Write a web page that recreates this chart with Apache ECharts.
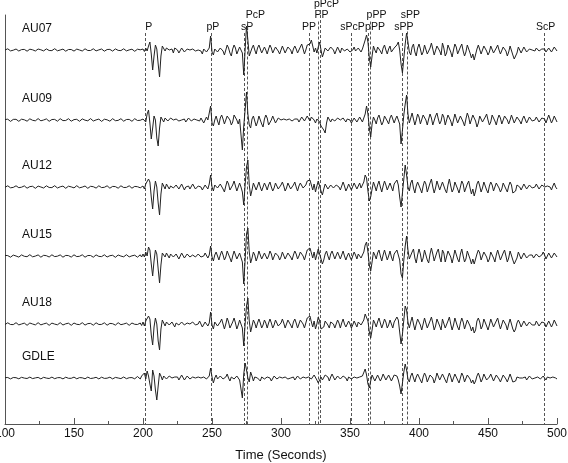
<!DOCTYPE html>
<html><head><meta charset="utf-8">
<script src="https://cdn.jsdelivr.net/npm/echarts@6/dist/echarts.min.js"></script>
<style>html,body{margin:0;padding:0;background:#fff}#c{width:568px;height:463px}</style>
</head><body><div id="c"></div>
<script>
// ---------- DATA ----------
const stations = ['AU07','AU09','AU12','AU15','AU18','GDLE'];
const timeStart = 100;   // seconds, first sample
const timeStep = 1;      // seconds between samples
const xTickValues = [100,150,200,250,300,350,400,450,500];

const AU07 = [
0,0.8,1.2,0.3,-0.9,-1.1,-0.2,0.9,1,0,
-1,-0.8,0.4,1.3,0.6,-0.7,-1.2,-0.3,0.8,1.1,
0.2,-0.9,-1,0.1,1,1.2,0.2,-1,-0.9,0.3,
1.1,0.7,-0.5,-1.3,-0.6,0.6,1.3,0.4,-0.8,-1,
0,1,0.9,-0.3,-1.2,-0.8,0.5,1.2,0.5,-0.7,
-1.1,-0.2,0.9,1.1,0,-1,-1,0.2,1.2,0.8,
-0.5,-1.3,-0.5,0.7,1.2,0.3,-0.9,-1,0.1,1,
1,-0.2,-1.2,-0.7,0.5,1.3,0.6,-0.8,-1.1,0,
1.1,0.9,-0.4,-1.2,-0.6,0.6,1.2,0.3,-0.9,-1,
0.1,1.1,0.8,-0.5,-1.3,-0.4,0.8,1.3,0.2,-1.2,
1,-1.5,2,-1,4,8,-4,-20,-6,5,
1,-14,-27,-6,4,2,-1,2,3,0,
-2,1,-3,2,3,0,-3,-1,2,1,
-2,-3,1,3,0,-2,1,3,-1,-3,
0,2,-1,-4,1,3,-2,-1,2,14,
-2,-5,1,3,-2,-4,2,4,-1,-5,
0,5,2,-3,-6,1,5,2,-4,-2,
3,1,-3,-25,0,24,10,-6,-8,2,
5,0,-4,2,5,1,-3,-1,3,0,
-4,1,5,2,-3,-2,3,4,-1,-4,
0,4,2,-3,-2,3,5,0,-4,1,
4,1,-3,-1,3,6,1,-4,0,5,
3,6,10,4,-2,2,-3,3,8,0,
-7,-5,2,4,-1,-3,3,5,0,-4,
-2,3,1,-3,2,4,-1,-3,1,2,
-2,-4,0,3,-1,-3,2,3,-2,1,
3,10,15,8,-8,-17,-6,4,0,-3,
3,5,-1,-4,2,5,0,-4,1,4,
-2,-4,2,2,5,8,0,-14,-23,-8,
6,17,8,-2,-5,3,6,-2,-6,2,
6,1,-5,-2,5,4,-4,-6,2,7,
1,-5,-3,4,6,-1,-5,7,2,-6,
-3,5,6,-2,-7,0,6,3,-4,-5,
3,6,-1,-6,-2,5,4,-3,-8,-4,
-10,-12,1,5,3,-4,-2,4,5,-1,
-5,-2,4,3,-3,-5,2,5,0,-4,
-3,3,5,-1,-6,-2,4,3,-5,-9,
-10,-3,3,2,-3,-1,3,1,-2,-3,
1,3,0,-2,-1,2,2,-1,-2,1,
3,1,-2,0,2,1,-2,0,3,1,
-1];

const AU09 = [
0.5,1.3,0.8,-0.6,-1.4,-0.7,0.6,1.4,0.7,-0.6,
-1.3,-0.5,0.8,1.3,0.2,-1.1,-1.2,0.1,1.2,1,
-0.3,-1.4,-0.8,0.6,1.4,0.6,-0.8,-1.3,0,1.2,
1.1,-0.3,-1.3,-0.9,0.5,1.4,0.6,-0.9,-1.2,0.2,
1.3,0.8,-0.6,-1.4,-0.5,0.9,1.3,0.1,-1.2,-1,
0.4,1.4,0.7,-0.8,-1.3,-0.2,1.1,1.2,-0.2,-1.3,
-0.8,0.7,1.4,0.4,-1,-1.3,0.1,1.3,0.9,-0.6,
-1.4,-0.6,0.8,1.3,0.2,-1.1,-1.2,0.3,1.3,0.8,
-0.7,-1.4,-0.4,1,1.3,0,-1.2,-1,0.5,1.4,
0.6,-0.9,-1.3,0,1.3,1,-0.5,-1.4,-0.3,1,
1,3,-2,6,10,-3,-19,-8,4,0,
-18,-26,-8,3,1,-2,2,3,-1,-2,
2,3,0,-2,1,2,-1,-3,0,2,
1,-2,-1,2,2,-1,-2,1,2,0,
-2,-1,2,1,-3,-1,3,0,-2,14,
-3,-6,0,4,-1,-5,2,5,1,-4,
-2,4,6,0,-5,-2,5,7,0,-4,
1,3,-30,-6,10,28,6,-5,-8,1,
4,-1,-6,-2,4,3,-4,-7,1,5,
2,-5,-7,0,4,2,-3,-2,2,3,
0,-2,1,3,0,-2,1,2,-1,-2,
1,3,1,-2,0,3,2,-1,1,4,
2,-1,3,4,0,-3,1,3,-2,-6,
-4,-10,-13,-3,3,2,-2,1,3,-1,
-2,2,3,0,-1,2,1,-2,1,3,
0,-3,-1,2,1,-2,0,3,1,-2,
2,6,14,6,-8,-17,-4,3,0,-4,
2,5,0,-5,-2,4,5,-1,-4,2,
5,1,-3,1,4,2,-4,-24,-10,5,
16,25,6,-3,2,7,1,-5,0,6,
3,-4,-2,5,7,0,-5,1,6,2,
-5,-3,4,7,1,-4,-1,6,3,-5,
-3,5,7,-1,-6,0,6,4,-3,-2,
4,6,-2,-6,1,7,3,-4,-3,5,
6,-1,-7,-3,4,5,-2,-4,3,6,
0,-5,-2,5,6,-1,-5,1,5,2,
-4,-3,4,6,0,-4,0,5,3,-3,
-2,3,5,-1,-4,1,4,2,-3,-1,
3,4,-1,-3,0,3,2,-2,-2,2,
4,1,-3,-1,5,3,-3,0,4,2,
-2];

const AU12 = [
-0.3,0.8,1.2,0.4,-0.8,-1.2,-0.4,0.7,1.2,0.5,
-0.7,-1.2,-0.2,1,1.1,-0.1,-1.2,-0.9,0.4,1.3,
0.7,-0.6,-1.3,-0.3,0.9,1.2,0,-1.1,-1,0.3,
1.2,0.8,-0.5,-1.2,-0.6,0.7,1.3,0.3,-1,-1.1,
0.2,1.2,0.9,-0.4,-1.3,-0.6,0.8,1.2,0.1,-1.1,
-0.9,0.4,1.3,0.6,-0.8,-1.2,-0.1,1.1,1,-0.4,
-1.3,-0.6,0.7,1.3,0.3,-1,-1.1,0.2,1.2,0.8,
-0.6,-1.3,-0.3,1,1.2,-0.1,-1.2,-0.7,0.6,1.3,
0.4,-1,-1.2,0.1,1.2,0.9,-0.5,-1.3,-0.4,0.9,
1.2,0,-1.2,-0.9,0.6,1.3,0.3,-1,-0.8,0.5,
1,-2,3,2,8,5,-10,-22,-4,6,
0,-16,-28,-7,4,1,-2,3,2,-2,
1,3,-1,-3,2,2,-2,-1,3,1,
-3,0,2,1,-2,-1,3,2,-2,-3,
1,3,0,-3,-1,2,1,-2,3,12,
0,-4,2,4,-1,-3,3,5,-2,-5,
1,6,3,-3,-5,2,6,1,-4,0,
4,0,-5,-18,2,20,27,2,-9,-3,
4,2,-3,1,5,0,-4,0,4,1,
-3,2,5,0,-4,-1,4,3,-2,-3,
2,5,1,-4,-1,4,3,-2,-3,2,
5,0,-4,1,4,5,-1,-3,2,6,
4,7,2,-3,3,-5,1,6,4,-4,
-8,-2,3,5,-2,-4,2,4,-1,-3,
2,4,0,-3,1,5,1,-4,-1,3,
1,-3,-2,4,2,-2,1,4,-1,0,
5,12,9,-4,-14,-10,-2,5,1,-4,
2,6,0,-5,1,6,2,-3,-1,4,
0,-4,3,4,7,2,-10,-20,-6,8,
22,12,0,-4,4,7,-1,-6,1,5,
7,-2,-6,1,6,3,-5,-4,4,8,
0,-6,-1,6,5,-3,-5,5,6,-3,
-6,2,8,1,-5,-2,5,6,-2,-6,
0,6,3,-5,-6,3,6,-1,-7,-2,
-9,-4,3,6,1,-5,-1,5,4,-3,
-6,1,5,2,-4,-3,4,6,-1,-5,
-2,4,5,-2,-5,1,5,2,-6,-8,
-4,2,4,0,-3,0,3,2,-2,-2,
2,3,-1,-3,0,3,1,-2,-1,2,
3,0,-2,1,3,0,-3,1,4,0,
-2];

const AU15 = [
0.6,1.2,0.4,-0.8,-1.2,-0.2,0.9,1.1,0,-1,
-1.1,0,1.1,1,-0.3,-1.2,-0.7,0.6,1.3,0.5,
-0.8,-1.2,-0.1,1,1.1,-0.2,-1.2,-0.6,0.7,1.2,
0.3,-1,-1,0.3,1.2,0.8,-0.6,-1.2,-0.2,1,
1.1,-0.1,-1.2,-0.7,0.6,1.3,0.4,-0.9,-1.1,0.2,
1.2,0.7,-0.6,-1.3,-0.3,0.9,1.2,0,-1.2,-0.8,
0.5,1.3,0.5,-0.8,-1.2,0,1.1,1,-0.4,-1.3,
-0.6,0.8,1.2,0.2,-1,-1,0.3,1.2,0.7,-0.7,
-1.3,-0.3,1,1.2,-0.1,-1.2,-0.8,0.6,1.3,0.4,
-0.9,-1.1,0.2,1.2,0.8,-0.6,-1.2,0,1.2,-1,
2,-1,4,0,9,6,-8,-20,-5,6,
2,-13,-27,-9,3,2,-1,3,1,-2,
2,3,-1,-2,2,1,-3,0,3,1,
-2,-2,2,3,-1,-3,1,2,-1,-2,
2,3,-1,-3,0,3,1,-2,1,10,
-1,-5,1,4,0,-4,1,5,1,-4,
-1,5,4,-2,-6,0,5,3,-3,-3,
3,2,-6,-28,-4,22,28,4,-7,-2,
4,1,-5,-1,5,3,-3,-2,3,2,
-3,0,5,2,-4,-2,3,5,0,-4,
-1,4,3,-3,-3,3,5,-1,-4,1,
5,2,-3,0,4,6,0,-4,1,6,
5,8,3,-2,4,-4,-2,7,5,-3,
-8,-4,2,5,0,-4,2,5,1,-3,
-1,4,2,-3,1,5,0,-4,0,3,
-1,-4,0,4,1,-3,2,4,-2,0,
4,11,14,4,-9,-15,-6,4,1,-3,
3,6,0,-5,1,6,1,-4,0,5,
-1,-5,2,3,6,6,-4,-18,-22,-4,
10,20,6,-3,-4,4,7,-2,-7,1,
7,2,-6,-2,6,5,-4,-7,2,8,
2,-5,-4,4,7,-1,-6,6,3,-6,
-4,5,7,-1,-7,-1,6,4,-3,-6,
2,7,0,-6,-3,5,5,-3,-8,-3,
-8,-10,2,6,3,-4,-3,4,6,-1,
-6,-3,4,5,-2,-6,1,6,1,-4,
-4,3,6,0,-6,-2,5,4,-4,-8,
-7,-2,4,2,-3,-1,3,2,-2,-3,
1,3,1,-2,-2,2,3,-1,-3,1,
4,1,-3,0,3,1,-2,0,3,2,
-1];

const AU18 = [
-0.5,0.6,1.2,0.7,-0.5,-1.3,-0.6,0.7,1.3,0.4,
-0.9,-1.2,0,1.2,0.9,-0.5,-1.3,-0.3,1,1.2,
0,-1.2,-0.9,0.5,1.3,0.5,-0.9,-1.2,0.1,1.2,
0.9,-0.5,-1.3,-0.4,0.9,1.2,-0.1,-1.2,-0.8,0.6,
1.3,0.4,-1,-1.1,0.2,1.3,0.8,-0.6,-1.3,-0.2,
1,1.1,-0.3,-1.3,-0.6,0.8,1.3,0.2,-1.1,-0.9,
0.4,1.3,0.6,-0.8,-1.2,0,1.2,0.9,-0.5,-1.3,
-0.4,0.9,1.2,-0.1,-1.2,-0.8,0.6,1.3,0.3,-1,
-1.1,0.2,1.3,0.7,-0.7,-1.2,0,1.2,0.9,-0.6,
-1.3,-0.3,1,1.1,-0.3,-1.3,-0.5,0.9,1,-1.5,
2,-2,3,1,8,5,-11,-21,-3,6,
0,-17,-26,-5,4,1,-2,2,3,-1,
-2,2,1,-3,1,3,-1,-2,2,2,
-1,-3,1,2,0,-2,2,3,-1,-3,
0,3,1,-3,-1,2,2,-2,1,12,
-1,-5,2,3,-2,-4,2,5,0,-5,
0,6,2,-4,-5,2,6,1,-5,-1,
4,0,-4,-22,0,18,26,3,-8,-2,
4,1,-4,1,5,1,-4,-1,4,1,
-4,1,5,1,-4,-1,4,3,-2,-4,
1,5,1,-4,-2,4,4,-1,-4,2,
5,1,-4,0,4,6,0,-4,1,6,
4,8,2,-3,3,-5,0,7,3,-5,
-7,-3,3,5,-1,-4,2,4,0,-4,
0,4,1,-4,1,5,0,-3,0,3,
0,-4,-1,3,1,-3,2,4,-1,1,
4,10,12,3,-8,-14,-6,4,1,-3,
2,6,1,-4,0,5,2,-4,-1,4,
0,-4,2,4,7,4,-8,-20,-10,4,
18,14,2,-4,2,7,0,-6,0,5,
7,-1,-6,0,6,4,-4,-6,3,7,
1,-6,-2,5,6,-2,-6,5,5,-4,
-5,3,7,0,-6,-1,6,5,-3,-6,
1,6,2,-5,-5,4,6,-2,-7,-3,
-9,-6,3,6,2,-5,-2,5,5,-2,
-6,-1,5,3,-3,-5,3,6,0,-5,
-3,4,5,-1,-6,0,5,3,-5,-8,
-5,1,4,1,-3,0,3,2,-2,-2,
2,3,-1,-3,-1,3,2,-2,-2,2,
4,1,-3,0,3,1,-3,0,4,1,
-2];

const GDLE = [
0.3,0.8,0.5,-0.4,-0.9,-0.4,0.5,0.9,0.3,-0.6,
-0.8,-0.1,0.7,0.8,-0.1,-0.9,-0.5,0.4,0.9,0.3,
-0.6,-0.8,0.1,0.9,0.6,-0.4,-0.9,-0.2,0.7,0.8,
-0.1,-0.9,-0.5,0.5,0.9,0.2,-0.7,-0.7,0.3,0.9,
0.4,-0.6,-0.9,0,0.8,0.7,-0.3,-0.9,-0.3,0.6,
0.9,0.1,-0.8,-0.6,0.4,0.9,0.2,-0.7,-0.8,0.2,
0.9,0.5,-0.5,-0.9,-0.1,0.8,0.7,-0.4,-0.9,0,
0.8,0.6,-0.4,-0.9,-0.2,0.7,0.8,-0.2,-0.9,-0.3,
0.6,0.9,0,-0.8,-0.6,0.4,1,0.3,-0.7,-0.7,
0.3,1,0.4,-0.6,-0.8,0.5,1.5,0,-1,2,
1,5,-1,7,2,-6,-13,8,2,-12,
-22,-8,5,2,-2,2,3,-1,-2,2,
3,0,-2,1,3,1,-2,-1,3,2,
-2,-1,2,2,-1,-2,1,3,0,-2,
1,3,0,-2,1,2,-1,-3,2,10,
1,-5,0,3,-1,-3,2,4,-1,-3,
1,4,0,-3,1,3,-1,-2,2,1,
-2,-4,-20,4,15,8,0,-4,6,2,
-3,1,3,0,-2,-3,1,2,-1,-2,
1,3,0,-3,-1,2,2,-1,-2,1,
2,0,-2,1,2,-1,-3,0,2,1,
-2,-1,2,2,-1,-2,1,2,0,-2,
1,2,-1,0,3,1,-2,-5,-3,1,
-2,0,3,4,1,-3,1,4,2,-2,
-3,2,3,-1,-2,2,3,0,-3,1,
2,-1,-3,1,2,0,-2,1,3,2,
4,9,3,-6,-10,-3,3,1,-3,0,
3,1,-3,0,4,2,-2,-1,3,1,
-3,0,3,5,2,-2,-8,-16,-5,6,
14,8,-1,-4,2,5,0,-4,1,4,
4,-2,-5,1,5,2,-4,-3,3,5,
0,-5,-1,5,4,-2,-4,4,5,-2,
-5,1,5,1,-4,-2,4,4,-2,-5,
0,5,2,-4,-4,3,5,-1,-5,-2,
-6,-3,2,5,1,-4,-1,4,3,-2,
-4,1,4,2,-3,-3,3,4,-1,-4,
-2,3,4,-1,-4,0,4,2,-4,-6,
-3,1,3,0,-2,0,2,1,-2,-1,
2,2,-1,-2,0,2,1,-1,-1,1,
2,0,-2,1,2,0,-2,1,3,0,
-1];

const phaseNames = ['P','pP','sP','PcP','PP','PP','pPcP','sPcP','pPP','pPP','sPP','sPP','ScP'];
const phaseTimes = [201.7,249.1,273.4,275.4,320.3,326.6,328.0,350.7,362.8,364.7,387.7,391.5,490.6];

// ---------- LAYOUT ----------
const traces = [AU07, AU09, AU12, AU15, AU18, GDLE];
const traceBase = [374, 304, 237, 168, 100, 46];      // baseline of each trace (y units = px)
const stationLabelX = 112.3;                             // left edge of station names (time units)
const stationLabelRise = 21;                             // px above trace baseline
const phaseLabelX = [204.1,250.6,275.4,281.4,320.3,329.3,333.0,351.8,368.1,369.2,389.1,393.8,491.7];
const phaseRow = [0,0,0,1,0,1,2,0,0,1,0,1,0];
const rowTextY = [27, 15.5, 4.5];
const rowLineTop = [33, 21.5, 10];
const FONT = 'Arial, "Liberation Sans", Helvetica, sans-serif';

for (const t of traces) if (t.length !== 401) throw new Error('bad length ' + t.length);

const chart = echarts.init(document.getElementById('c'), null, {renderer: 'canvas'});

const series = traces.map((arr, i) => ({
  name: stations[i],
  type: 'line',
  data: arr.map((v, k) => [timeStart + k * timeStep, traceBase[i] + v]),
  showSymbol: false,
  symbol: 'none',
  lineStyle: {color: '#222', width: 1},
  silent: true,
  z: 3
}));

series.push({
  type: 'custom',
  silent: true,
  clip: false,
  z: 2,
  data: phaseTimes.map((t, i) => [t, 0, i]),
  renderItem: (params, api) => {
    const i = api.value(2);
    const bottom = api.coord([api.value(0), 0]);
    const lab = api.coord([phaseLabelX[i], 0]);
    const row = phaseRow[i];
    const x = Math.round(bottom[0]) + 0.5;
    return {type: 'group', children: [
      {type: 'line', shape: {x1: x, y1: rowLineTop[row], x2: x, y2: bottom[1]},
       style: {stroke: '#555', lineWidth: 1, lineDash: [3, 2]}},
      {type: 'text', x: lab[0], y: rowTextY[row],
       style: {text: phaseNames[i], fill: '#111', font: '10.5px ' + FONT, align: 'center', verticalAlign: 'middle'}}
    ]};
  }
});

series.push({
  type: 'custom',
  silent: true,
  clip: false,
  z: 4,
  data: stations.map((s, i) => [stationLabelX, traceBase[i], i]),
  renderItem: (params, api) => {
    const i = api.value(2);
    const p = api.coord([api.value(0), api.value(1)]);
    return {type: 'text', x: p[0], y: p[1] - stationLabelRise,
      style: {text: stations[i], fill: '#111', font: '12px ' + FONT, align: 'left', verticalAlign: 'middle'}};
  }
});

chart.setOption({
  animation: false,
  backgroundColor: '#fff',
  grid: {left: 5, right: 11, top: 15, bottom: 39, containLabel: false, outerBoundsMode: 'none'},
  xAxis: {
    type: 'value', min: xTickValues[0], max: xTickValues[xTickValues.length - 1],
    interval: xTickValues[1] - xTickValues[0],
    axisLine: {lineStyle: {color: '#555', width: 1}},
    axisTick: {inside: true, length: 6, lineStyle: {color: '#555'}},
    minorTick: {show: true, splitNumber: 2, length: 3, lineStyle: {color: '#555'}},
    axisLabel: {color: '#111', fontSize: 12, fontFamily: FONT, margin: 4},
    splitLine: {show: false},
    name: 'Time (Seconds)', nameLocation: 'middle', nameGap: 25,
    nameTextStyle: {color: '#111', fontSize: 13, fontFamily: FONT}
  },
  yAxis: {
    type: 'value', min: 0, max: 409,
    axisLine: {show: true, lineStyle: {color: '#555', width: 1}},
    axisTick: {show: false}, axisLabel: {show: false}, splitLine: {show: false}
  },
  series: series
});
</script></body></html>
